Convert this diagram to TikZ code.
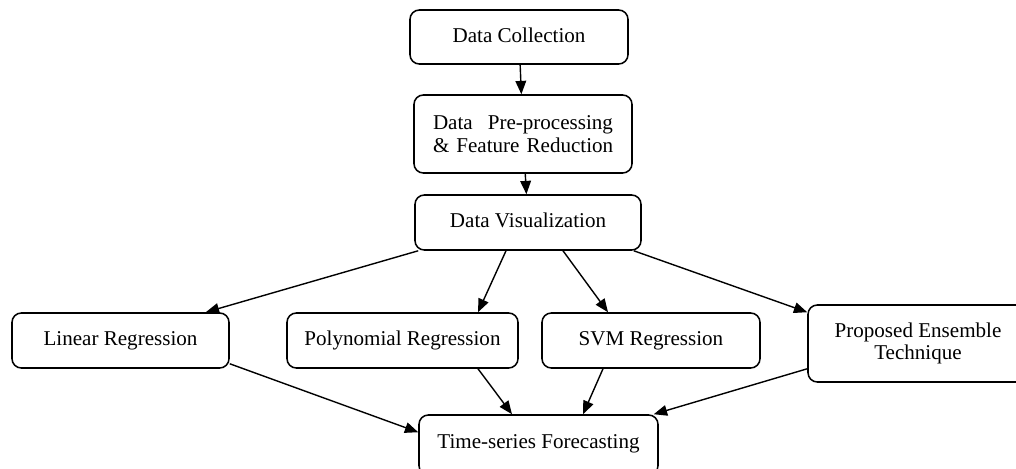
\documentclass[tikz,border=0pt]{standalone}
\usepackage{fontspec}
\setmainfont{Liberation Serif}
\usetikzlibrary{arrows.meta,calc}
\newcommand{\rtxt}[1]{\raisebox{3pt}{#1}}
\begin{document}
\begin{tikzpicture}[x=0.75pt,y=-0.75pt,
  box/.style={draw=black, line width=1.15pt, rounded corners=7pt, inner sep=0pt,
    align=center, font=\fontsize{15.8}{17}\selectfont, fill=white},
  arr/.style={line width=1.05pt, -{Triangle[length=10pt,width=8pt]}}]
\useasboundingbox (0,0) rectangle (1016,468);
\node[box, minimum width=218*0.75pt, minimum height=54*0.75pt] (dc) at (519,37) {\rtxt{Data Collection}};
\node[box, minimum width=218*0.75pt, minimum height=78*0.75pt, text width=135pt] (dpp) at (523,134)
  {\raisebox{2pt}{\parbox{135pt}{\centering Data\hfill Pre-processing\\\mbox{\& Feature Reduction}}}};
\node[box, minimum width=226*0.75pt, minimum height=55*0.75pt] (dv) at (528,222.5) {\rtxt{Data Visualization}};
\node[box, minimum width=217*0.75pt, minimum height=55*0.75pt] (lr) at (120.5,340.5) {\rtxt{Linear Regression}};
\node[box, minimum width=231*0.75pt, minimum height=55*0.75pt] (pr) at (402.5,340.5) {\rtxt{Polynomial Regression}};
\node[box, minimum width=218*0.75pt, minimum height=55*0.75pt] (svm) at (651,340.5) {\rtxt{SVM Regression}};
\node[box, minimum width=220*0.75pt, minimum height=77*0.75pt] (pet) at (918,343.5) {Proposed Ensemble\\Technique};
\node[box, minimum width=239*0.75pt, minimum height=60*0.75pt] (tsf) at (538.5,445) {\raisebox{5pt}{Time-series Forecasting}};

\draw[arr] (dc) -- (dpp);
\draw[arr] (dpp) -- (dv);
\draw[arr] ($(dv.south west)+(4,0)$) -- ($(lr.north east)+(-24,0)$);
\draw[arr] ($(dv.south)+(-22,0)$) -- ($(pr.north)+(75.5,0)$);
\draw[arr] ($(dv.south)+(35,0)$) -- ($(svm.north)+(-43,0)$);
\draw[arr] ($(dv.south east)+(-8,0)$) -- ($(pet.north west)+(0,8)$);
\draw[arr] ($(lr.south east)+(0,-5)$) -- ($(tsf.north west)+(0,18)$);
\draw[arr] ($(pr.south)+(75.5,0)$) -- ($(tsf.north)+(-26.5,0)$);
\draw[arr] ($(svm.south)+(-48,0)$) -- ($(tsf.north)+(44.5,0)$);
\draw[arr] ($(pet.south west)+(0,-14)$) -- ($(tsf.north east)+(-5,0)$);
\end{tikzpicture}
\end{document}
